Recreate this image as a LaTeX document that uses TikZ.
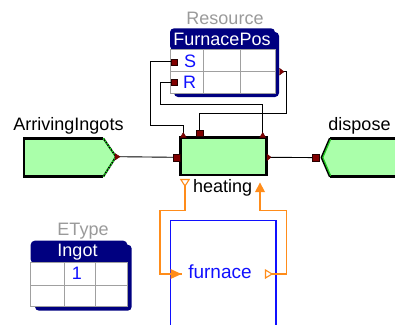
\documentclass[tikz,border=0pt]{standalone}
\usepackage{fontspec}
\setmainfont{Liberation Sans}
\usetikzlibrary{arrows.meta,calc}
\definecolor{navy}{HTML}{000080}
\definecolor{lgreen}{HTML}{AAFFAA}
\definecolor{pgreen}{HTML}{22CC22}
\definecolor{portred}{HTML}{800000}
\definecolor{gridgray}{HTML}{A0A0A0}
\definecolor{labgray}{HTML}{9A9A9A}
\definecolor{orng}{HTML}{FF8C1A}
\definecolor{blu}{HTML}{1010FF}
\tikzset{
  txt/.style={font=\fontsize{18}{18}\selectfont, inner sep=0pt},
  conn/.style={draw=black, line width=0.9pt},
  oconn/.style={draw=orng, line width=1.2pt},
  psq/.style={fill=portred, draw=black!70!portred, line width=0.4pt},
  ptri/.style={fill=portred, draw=portred!70!black, line width=0.4pt},
  blockfill/.style={fill=lgreen, draw=black, line width=2.6pt},
  gridln/.style={draw=gridgray, line width=0.9pt},
}
\begin{document}
\begin{tikzpicture}[x=1pt,y=-1pt]
\useasboundingbox (0,0) rectangle (395,324);
\clip (0,0) rectangle (395,324);

% ---------- FurnacePos table ----------
\node[txt, text=labgray] (reslab) at (225,18) {Resource};
\fill[navy, rounded corners=4pt] (174,32) rectangle (279,97);
\fill[navy, rounded corners=4pt] (170,28.3) rectangle (275,50);
\fill[white] (170,49.3) rectangle (275,93);
\draw[gridln] (170,49.3) rectangle (275,93);
\draw[gridln] (170,71.3) -- (275,71.3);
\draw[gridln] (203.3,49.3) -- (203.3,93);
\draw[gridln] (240.3,49.3) -- (240.3,93);
\node[txt, text=white] (fplab) at (222,39) {FurnacePos};
\node[txt, text=blu] (slab) at (190,61) {S};
\node[txt, text=blu] (rlab) at (189.5,82) {R};
\coordinate (sP) at (174,61.7);
\coordinate (rP) at (174,82);
\coordinate (fR) at (283,71.7);

% ---------- heating block ----------
\node[blockfill, minimum width=86pt, minimum height=37.7pt, inner sep=0pt] (heat) at (223.7,156.2) {};
\node[txt, anchor=west] (heatlab) at (193,188) {heating};
\coordinate (hTL) at (183.3,135);
\coordinate (hTM) at (199.3,133.3);
\coordinate (hTR) at (262.7,135);
\coordinate (hL) at (176.7,157.3);
\coordinate (hR) at (269,157.3);
\coordinate (hBL) at (185,185.5);
\coordinate (hBR) at (260,182.5);

% ---------- ArrivingIngots ----------
\node[txt] (arrlab) at (68.5,126) {ArrivingIngots};
\fill[lgreen] (24,138.3) -- (103.3,138.3) -- (116,156.7) -- (103.3,176.7) -- (24,176.7) -- cycle;
\draw[black, line width=2.6pt, line join=miter] (103.3,138.3) -- (24,138.3) -- (24,176.7) -- (103.3,176.7);
\draw[black, line width=1.8pt] (103.3,138.3) -- (116,156.7) -- (103.3,176.7);
\draw[pgreen, line width=1.8pt, dash pattern=on 1.5pt off 1.5pt] (103.3,138.3) -- (116,156.7) -- (103.3,176.7);
\coordinate (aP) at (118,156.7);

% ---------- dispose ----------
\node[txt] (displab) at (359.5,126) {dispose};
\fill[lgreen] (330,138.3) -- (400,138.3) -- (400,176.7) -- (330,176.7) -- (321.7,157.5) -- cycle;
\draw[black, line width=2.6pt] (330,138.3) -- (400,138.3);
\draw[black, line width=2.6pt] (330,176.7) -- (400,176.7);
\draw[black, line width=2.2pt] (330,138.3) -- (321.7,157.5) -- (330,176.7);
\draw[pgreen, line width=1.2pt] (330.6,139.3) -- (322.8,157.5) -- (330.6,175.7);
\coordinate (dP) at (316,157.6);

% ---------- connectors ----------
\draw[conn] (sP) -| (150,125) -| (hTL);
\draw[conn] (rP) -| (160.7,104) -| (hTR);
\draw[conn] (fR) -| (286.7,113.3) -| (hTM);
\draw[conn] (aP) -- (hL);
\draw[conn] (hR) -- (dP);

% ports
\filldraw[psq] ($(sP)+(-3,-3)$) rectangle ($(sP)+(3,3)$);
\filldraw[psq] ($(rP)+(-3,-3)$) rectangle ($(rP)+(3,3)$);
\filldraw[ptri] (279.5,68.3) -- (284,71.7) -- (279.5,75) -- cycle;
\filldraw[ptri] (115,153.5) -- (120,156.7) -- (115,160) -- cycle;
\filldraw[psq] (173.2,153.8) rectangle (180.2,160.8);
\filldraw[ptri] (267,154) -- (271,157.3) -- (267,160.6) -- cycle;
\filldraw[ptri] (180.3,137.5) -- (183.3,132.5) -- (186.3,137.5) -- cycle;
\filldraw[psq] (195.8,129.8) rectangle (202.8,136.3);
\filldraw[ptri] (259.7,137.5) -- (262.7,132.5) -- (265.7,137.5) -- cycle;
\filldraw[psq] (312.5,154.1) rectangle (319.5,161.1);

% ---------- furnace ----------
\draw[blu, line width=1.3pt] (170.7,330) |- (276,220.7) -- (276,330);
\node[txt, text=blu, font=\fontsize{19}{19}\selectfont] (furnlab) at (220,271.5) {furnace};
\coordinate (fIn) at (181.5,274);
\coordinate (fOut) at (272,274);
\draw[oconn] (hBL) |- (160,210.7) |- (fIn);
\fill[orng] (170.5,269) -- (181.5,274) -- (170.5,279) -- cycle;
\draw[oconn] (fOut) -| (286.7,210.7) -| (260,191);
\fill[orng] (255,192) -- (260,182.5) -- (265,192) -- cycle;
\draw[orng, line width=1.1pt, fill=white] (180.8,179.5) -- (189.2,179.5) -- (185,186) -- cycle;
\draw[orng, line width=1.1pt, fill=white] (265.5,270) -- (272,274) -- (265.5,278) -- cycle;

% ---------- EType table ----------
\node[txt, text=labgray] (etlab) at (83,231.5) {EType};
\fill[navy, rounded corners=4pt] (35,244.7) rectangle (131.7,310.7);
\fill[navy, rounded corners=4pt] (30.7,240.7) rectangle (127.3,263.5);
\fill[white] (30.7,262.7) rectangle (127.3,306.7);
\draw[gridln] (30.7,262.7) rectangle (127.3,306.7);
\draw[gridln] (30.7,285) -- (127.3,285);
\draw[gridln] (64,262.7) -- (64,306.7);
\draw[gridln] (95.7,262.7) -- (95.7,306.7);
\node[txt, text=white] (inglab) at (77.5,251.7) {Ingot};
\node[txt, text=blu] (onelab) at (77,273) {1};
\end{tikzpicture}
\end{document}
